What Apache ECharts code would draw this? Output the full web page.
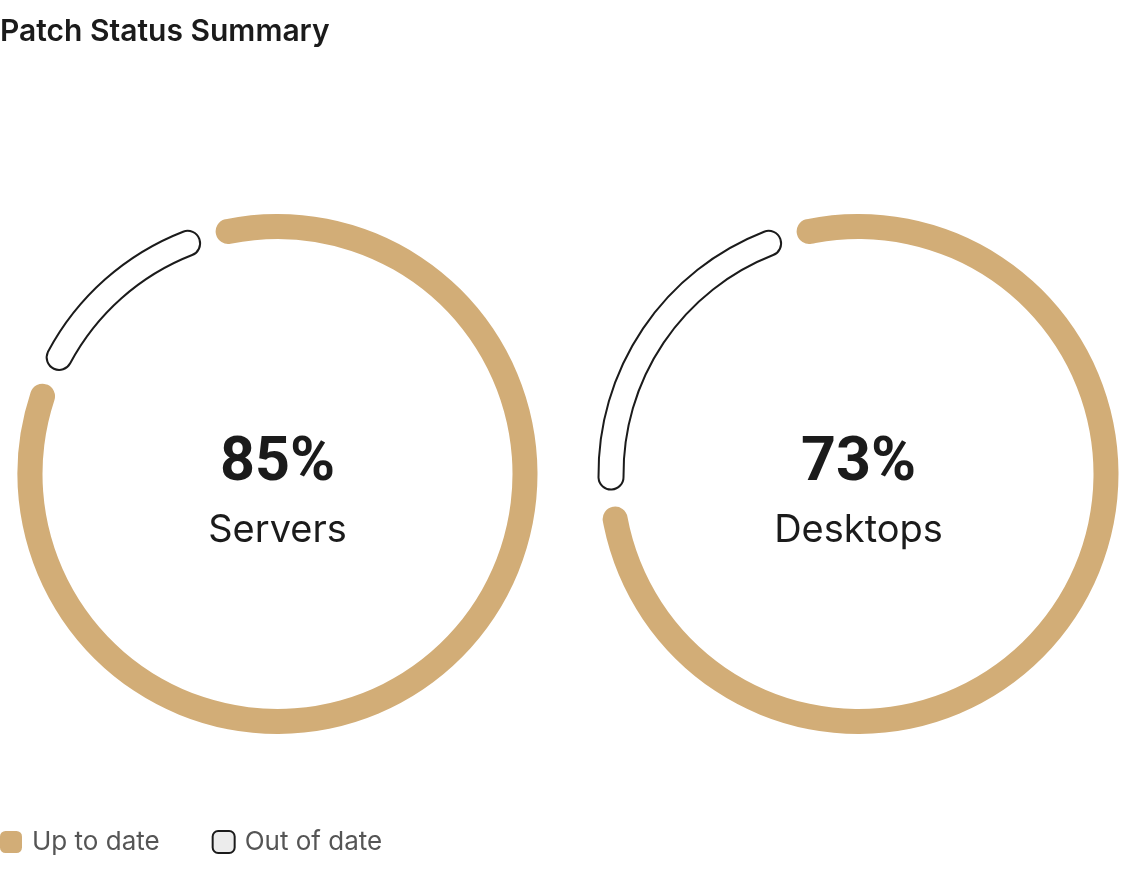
<!DOCTYPE html>
<html>
<head>
    <meta charset="utf-8">
    <script src="https://cdn.jsdelivr.net/npm/echarts@6/dist/echarts.min.js"></script>
    <style>
        html, body { margin: 0; padding: 0; background: #fff; }
    </style>
</head>
<body>
    <div id="main" style="width: 1130px;height:882px;"></div>
    <script type="text/javascript">
        // data
        var groups = ['Servers', 'Desktops'];
        var pctLabels = ['85%', '73%'];
        var upToDate = [86, 78];     // share of the ring drawn in gold
        var outOfDate = [14, 22];
        var statusNames = ['Up to date', 'Out of date'];

        var gold = '#D2AD77';
        var ink = '#1b1b1b';
        var font = 'Inter, "Noto Sans", sans-serif';
        var centers = [[277.5, 474], [858.5, 474]];

        var myChart = echarts.init(document.getElementById('main'));

        var series = groups.map(function (g, i) {
            return {
                name: g,
                type: 'pie',
                center: centers[i],
                radius: [235, 260],
                startAngle: 106.4,
                padAngle: 4,
                silent: true,
                label: { show: false },
                labelLine: { show: false },
                itemStyle: { borderRadius: 12.5 },
                data: [
                    { name: statusNames[0], value: upToDate[i], itemStyle: { color: gold } },
                    { name: statusNames[1], value: outOfDate[i],
                      itemStyle: { color: '#ffffff', borderColor: ink, borderWidth: 2 } }
                ]
            };
        });

        // center texts
        var graphic = [];
        groups.forEach(function (g, i) {
            graphic.push({
                type: 'text', x: centers[i][0], y: 465,
                style: { text: pctLabels[i], fill: ink, font: 'bold 61px Roboto, ' + font,
                         textAlign: 'center', textVerticalAlign: 'middle' }
            });
            graphic.push({
                type: 'text', x: centers[i][0], y: 531,
                style: { text: g, fill: ink, font: '400 38px ' + font,
                         textAlign: 'center', textVerticalAlign: 'middle' }
            });
        });

        option = {
            animation: false,
            title: {
                text: 'Patch Status Summary',
                left: -5,
                top: 12,
                textStyle: { fontFamily: font, fontSize: 30, fontWeight: 600, color: ink }
            },
            legend: {
                left: 0,
                top: 829,
                padding: 0,
                icon: 'roundRect',
                itemWidth: 22,
                itemHeight: 22,
                itemGap: 52,
                textStyle: { fontFamily: font, fontSize: 26, color: '#555555', padding: [0, 0, 0, 5] },
                data: [
                    { name: statusNames[0], itemStyle: { color: gold } },
                    { name: statusNames[1], itemStyle: { color: '#ececec', borderColor: ink, borderWidth: 2 } }
                ]
            },
            graphic: graphic,
            series: series
        };

        myChart.setOption(option);
    </script>
</body>
</html>
